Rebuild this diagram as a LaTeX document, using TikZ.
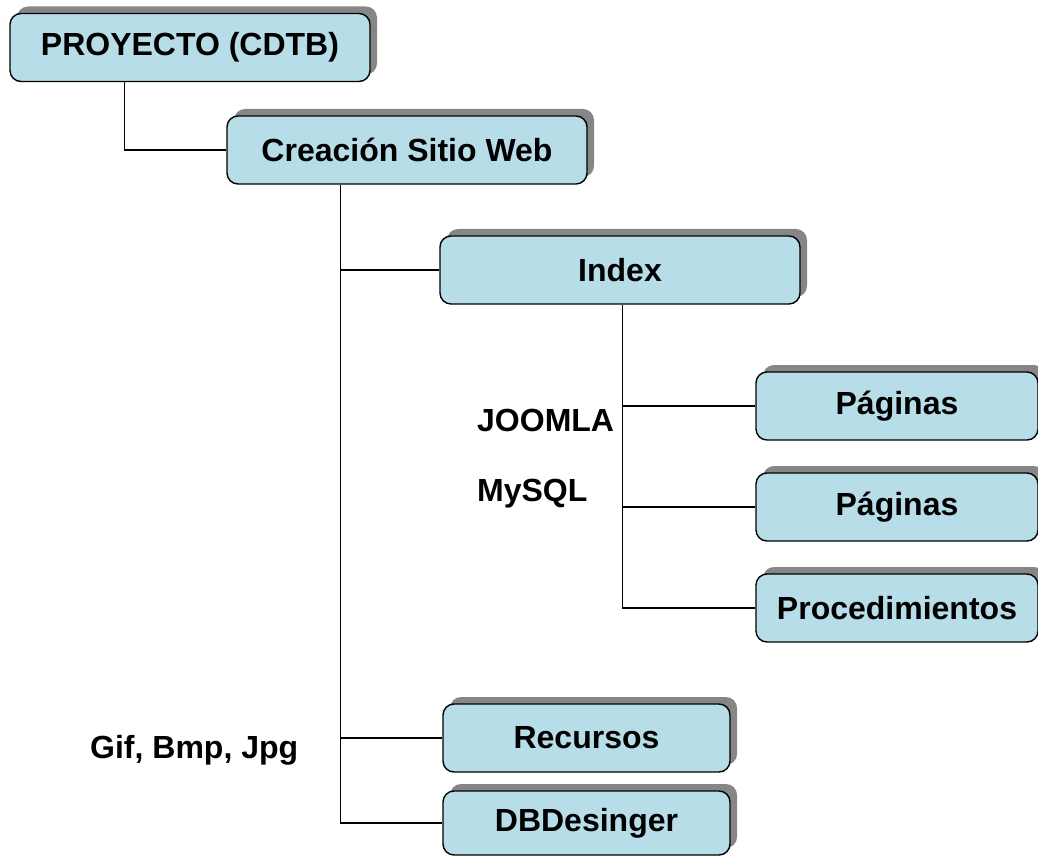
\documentclass[tikz,border=0pt]{standalone}
\usepackage{fontspec}
\setmainfont{Liberation Sans}
\usetikzlibrary{shadows}
\definecolor{cajaazul}{RGB}{183,221,232}
\begin{document}
\begin{tikzpicture}[x=1pt,y=-1pt,
	caja/.style={draw,line width=1.4pt,rounded corners=11pt,fill=cajaazul,
		drop shadow={shadow xshift=7pt,shadow yshift=7pt,fill=gray!95,opacity=1},
		minimum height=68pt,inner sep=0pt,font=\fontsize{32}{37}\selectfont\bfseries},
	etiqueta/.style={anchor=west,inner sep=0pt,font=\fontsize{32}{37}\selectfont\bfseries},
	linea/.style={line width=1.3pt}]
	\useasboundingbox (0,0) rectangle (1038,858);
	% cajas
	\node[caja,minimum width=360pt] (proyecto) at (190,47.5) {PROYECTO (CDTB)};
	\node[caja,minimum width=360pt] (creacion) at (407,150) {Creación Sitio Web};
	\node[caja,minimum width=360pt] (index) at (620,270) {Index};
	\node[caja,minimum width=282pt] (paginasA) at (897,406) {Páginas};
	\node[caja,minimum width=282pt] (paginasB) at (897,507) {Páginas};
	\node[caja,minimum width=282pt] (procedimientos) at (897,608) {Procedimientos};
	\node[caja,minimum width=287pt] (recursos) at (586.5,738) {Recursos};
	\node[caja,minimum width=287pt,minimum height=64pt] (dbdesinger) at (586.5,823) {DBDesinger};
	% textos sueltos
	\node[etiqueta] (joomla) at (477,420) {JOOMLA};
	\node[etiqueta] (mysql) at (477,494) {MySQL};
	\node[etiqueta] (formatos) at (90,750) {Gif, Bmp, Jpg};
	% lineas
	\draw[linea] ([xshift=115pt]proyecto.south west) |- (creacion.west);
	\draw[linea] ([xshift=114pt]creacion.south west) |- (dbdesinger.west);
	\draw[linea] ([xshift=114pt]creacion.south west) |- (index.west);
	\draw[linea] ([xshift=114pt]creacion.south west) |- (recursos.west);
	\draw[linea] ([xshift=183pt]index.south west) |- (procedimientos.west);
	\draw[linea] ([xshift=183pt]index.south west) |- (paginasA.west);
	\draw[linea] ([xshift=183pt]index.south west) |- (paginasB.west);
\end{tikzpicture}
\end{document}
